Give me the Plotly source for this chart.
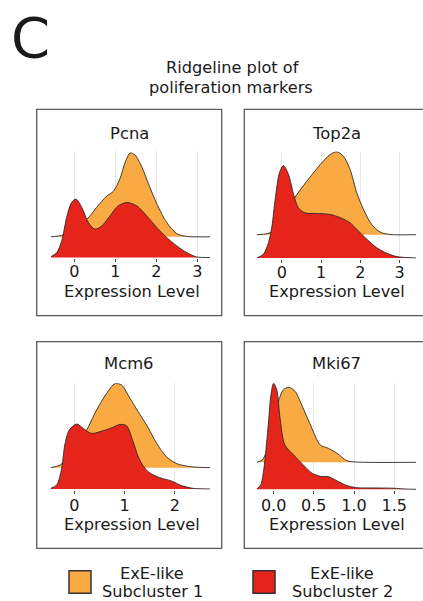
import plotly.graph_objects as go

# ---------------- data ----------------
GENES = ["Pcna", "Top2a", "Mcm6", "Mki67"]
GROUP_LINE1 = ["ExE-like", "ExE-like"]
GROUP_LINE2 = ["Subcluster 1", "Subcluster 2"]

# density heights, in units of the ridge spacing
PCNA_SUB1_X = [-0.58, -0.27, 0.0, 0.30, 0.54, 0.79, 0.95, 1.11, 1.24, 1.36, 1.48, 1.64, 1.80, 2.01, 2.25, 2.50, 2.74, 3.31]
PCNA_SUB1_D = [0.0, 0.10, 0.60, 0.85, 1.42, 1.97, 2.20, 2.80, 3.60, 4.05, 3.95, 3.40, 2.60, 1.60, 0.70, 0.15, 0.02, 0.0]
PCNA_SUB2_X = [-0.58, -0.43, -0.31, -0.19, -0.07, 0.04, 0.18, 0.34, 0.50, 0.67, 0.87, 1.07, 1.28, 1.52, 1.76, 2.01, 2.25, 2.50, 2.74, 2.98, 3.31]
PCNA_SUB2_D = [0.03, 0.24, 0.81, 1.94, 2.66, 2.82, 2.42, 1.69, 1.37, 1.53, 2.02, 2.50, 2.66, 2.50, 2.02, 1.45, 0.97, 0.56, 0.24, 0.03, 0.0]

TOP2A_SUB1_X = [-0.64, -0.38, -0.21, 0.0, 0.30, 0.64, 0.98, 1.23, 1.40, 1.57, 1.74, 1.91, 2.08, 2.29, 2.51, 2.76, 3.42]
TOP2A_SUB1_D = [0.0, 0.04, 0.16, 0.50, 1.51, 2.30, 3.01, 3.44, 3.56, 3.37, 2.80, 1.80, 1.09, 0.44, 0.11, 0.01, 0.0]
TOP2A_SUB2_X = [-0.64, -0.47, -0.34, -0.25, -0.17, -0.06, 0.04, 0.17, 0.30, 0.42, 0.59, 0.89, 1.23, 1.49, 1.74, 1.91, 2.17, 2.42, 2.68, 2.93, 3.42]
TOP2A_SUB2_D = [0.0, 0.16, 0.66, 1.37, 2.51, 3.66, 3.97, 3.59, 2.73, 2.16, 1.94, 1.91, 1.87, 1.73, 1.51, 1.23, 0.80, 0.44, 0.20, 0.06, 0.0]

MCM6_SUB1_X = [-0.47, -0.28, -0.15, 0.11, 0.28, 0.44, 0.64, 0.81, 0.94, 1.11, 1.27, 1.44, 1.64, 1.83, 2.03, 2.30, 2.70]
MCM6_SUB1_D = [0.0, 0.13, 0.44, 1.20, 1.92, 2.70, 3.48, 3.95, 3.88, 3.25, 2.63, 2.00, 1.14, 0.52, 0.20, 0.05, 0.0]
MCM6_SUB2_X = [-0.47, -0.35, -0.25, -0.19, -0.10, 0.05, 0.18, 0.34, 0.51, 0.71, 0.91, 1.04, 1.17, 1.30, 1.47, 1.70, 1.93, 2.13, 2.36, 2.70]
MCM6_SUB2_D = [0.03, 0.19, 0.97, 2.06, 2.77, 3.05, 2.84, 2.61, 2.69, 2.84, 3.03, 2.97, 2.22, 1.36, 0.81, 0.53, 0.38, 0.16, 0.03, 0.0]

MKI67_SUB1_X = [-0.21, -0.14, -0.08, 0.0, 0.06, 0.12, 0.19, 0.27, 0.35, 0.45, 0.58, 0.68, 0.79, 0.91, 1.03, 1.77]
MKI67_SUB1_D = [0.0, 0.09, 0.46, 1.26, 2.25, 2.68, 2.78, 2.62, 2.12, 1.44, 0.64, 0.52, 0.33, 0.06, 0.01, 0.0]
MKI67_SUB2_X = [-0.21, -0.16, -0.12, -0.07, -0.03, 0.0, 0.04, 0.08, 0.14, 0.25, 0.35, 0.48, 0.60, 0.68, 0.79, 0.91, 1.03, 1.24, 1.49, 1.65, 1.77]
MKI67_SUB2_D = [0.01, 0.16, 0.78, 2.26, 3.56, 3.93, 3.68, 2.63, 1.64, 1.27, 0.96, 0.59, 0.47, 0.47, 0.31, 0.14, 0.06, 0.05, 0.04, 0.01, 0.0]

INT_TICKS = [0, 1, 2, 3]
INT_TICK_LABELS = ["0", "1", "2", "3"]
MCM6_TICKS = [0, 1, 2]
MCM6_TICK_LABELS = ["0", "1", "2"]
MKI67_TICKS = [0.0, 0.5, 1.0, 1.5]
MKI67_TICK_LABELS = ["0.0", "0.5", "1.0", "1.5"]

SERIES = [
    (PCNA_SUB1_X, PCNA_SUB1_D, PCNA_SUB2_X, PCNA_SUB2_D, INT_TICKS, INT_TICK_LABELS),
    (TOP2A_SUB1_X, TOP2A_SUB1_D, TOP2A_SUB2_X, TOP2A_SUB2_D, INT_TICKS, INT_TICK_LABELS),
    (MCM6_SUB1_X, MCM6_SUB1_D, MCM6_SUB2_X, MCM6_SUB2_D, MCM6_TICKS, MCM6_TICK_LABELS),
    (MKI67_SUB1_X, MKI67_SUB1_D, MKI67_SUB2_X, MKI67_SUB2_D, MKI67_TICKS, MKI67_TICK_LABELS),
]

# ---------------- layout / style ----------------
W, H = 423, 601
FONT = "DejaVu Sans, Liberation Sans, Arial, sans-serif"
FS = 16.2
ORANGE = "#FAAA42"
RED = "#E6251A"
OUTLINE = "#2a2a2a"
TXT = "#1a1a1a"

PANELS = [
    dict(px=(50.7, 210.0), base=257.5, top=150.5, step=20.7, xr=(-0.58, 3.31), so=-4,
         box=(36.7, 109.3, 221.7, 315.7), ty=133.0, ax=132.0, ay=291.2),
    dict(px=(256.7, 416.0), base=258.0, top=151.5, step=23.3, xr=(-0.64, 3.42), so=-4,
         box=(244.3, 109.3, 429.3, 315.7), ty=133.0, ax=337.0, ay=291.2),
    dict(px=(50.7, 210.0), base=489.0, top=383.3, step=21.3, xr=(-0.47, 2.70), so=-2,
         box=(36.7, 341.7, 221.7, 548.3), ty=363.3, ax=132.0, ay=524.4),
    dict(px=(256.7, 416.0), base=489.3, top=383.3, step=27.0, xr=(-0.21, 1.77), so=-2,
         box=(244.3, 341.7, 429.3, 548.3), ty=363.3, ax=337.0, ay=524.4),
]


def xp(v):
    return v / W


def yp(v):
    return 1 - v / H


fig = go.Figure()
layout_axes = {}
shapes = []
annotations = []

for i, (gene, (x1, d1, x2, d2, tv, tt), P) in enumerate(zip(GENES, SERIES, PANELS)):
    sfx = "" if i == 0 else str(i + 1)
    xa, ya = "x" + sfx, "y" + sfx
    pad = 0.03
    ytop = (P["base"] - P["top"]) / P["step"]
    ybot = -pad
    fig.add_trace(go.Scatter(x=x1, y=[1.0] * len(x1), mode="lines", line=dict(width=0),
                             hoverinfo="skip", showlegend=False, xaxis=xa, yaxis=ya))
    fig.add_trace(go.Scatter(x=x1, y=[1.0 + v for v in d1], mode="lines", fill="tonexty",
                             fillcolor=ORANGE, line=dict(color=OUTLINE, width=0.9, shape="spline", smoothing=0.8),
                             name=GROUP_LINE1[0] + " " + GROUP_LINE2[0], showlegend=False,
                             xaxis=xa, yaxis=ya))
    fig.add_trace(go.Scatter(x=x2, y=d2, mode="lines", fill="tozeroy", fillcolor=RED,
                             line=dict(color=OUTLINE, width=0.9, shape="spline", smoothing=0.8),
                             name=GROUP_LINE1[1] + " " + GROUP_LINE2[1], showlegend=False,
                             xaxis=xa, yaxis=ya))
    ypx_bot = P["base"] + pad * P["step"]
    layout_axes["xaxis" + sfx] = dict(
        domain=[xp(P["px"][0]), xp(P["px"][1])], range=list(P["xr"]), anchor=ya,
        tickvals=tv, ticktext=tt, showgrid=True, gridcolor="#e6e6e6", gridwidth=1,
        zeroline=False, showline=False, ticks="outside", ticklen=3, tickwidth=1,
        tickcolor="#444444", ticklabelstandoff=P["so"],
        tickfont=dict(family=FONT, size=16, color=TXT), fixedrange=True)
    layout_axes["yaxis" + sfx] = dict(
        domain=[yp(ypx_bot), yp(P["top"])], range=[ybot, ytop], anchor=xa,
        visible=False, showgrid=False, zeroline=False, fixedrange=True)
    bx0, by0, bx1, by1 = P["box"]
    shapes.append(dict(type="rect", xref="paper", yref="paper", x0=xp(bx0), x1=xp(bx1),
                       y0=yp(by1), y1=yp(by0), line=dict(color="#5a5a5a", width=1.3)))
    annotations.append(dict(text=gene, x=xp((bx0 + bx1) / 2), y=yp(P["ty"]), xref="paper", yref="paper",
                            showarrow=False, xanchor="center", yanchor="middle",
                            font=dict(family=FONT, size=16.4, color=TXT)))
    annotations.append(dict(text="Expression Level", x=xp(P["ax"]), y=yp(P["ay"]), xref="paper", yref="paper",
                            showarrow=False, xanchor="center", yanchor="middle",
                            font=dict(family=FONT, size=FS, color=TXT)))

annotations.append(dict(text="C", x=xp(30), y=yp(38), xref="paper", yref="paper", showarrow=False,
                        xanchor="center", yanchor="middle", font=dict(family=FONT, size=56, color=TXT)))
annotations.append(dict(text="Ridgeline plot of", x=xp(232), y=yp(67.5), xref="paper", yref="paper",
                        showarrow=False, xanchor="center", yanchor="middle",
                        font=dict(family=FONT, size=FS, color=TXT)))
annotations.append(dict(text="poliferation markers", x=xp(231), y=yp(87.5), xref="paper", yref="paper",
                        showarrow=False, xanchor="center", yanchor="middle",
                        font=dict(family=FONT, size=FS, color=TXT)))

LEG = [(ORANGE, 69, 151.5), (RED, 253, 341.5)]
for (col, sx, tx), l1, l2 in zip(LEG, GROUP_LINE1, GROUP_LINE2):
    shapes.append(dict(type="rect", xref="paper", yref="paper", x0=xp(sx), x1=xp(sx + 22),
                       y0=yp(593.3), y1=yp(570.7), fillcolor=col, line=dict(color="#333333", width=1.5)))
    annotations.append(dict(text=l1, x=xp(tx), y=yp(573.5), xref="paper", yref="paper", showarrow=False,
                            xanchor="center", yanchor="middle", font=dict(family=FONT, size=FS, color=TXT)))
    annotations.append(dict(text=l2, x=xp(tx + 1), y=yp(591.5), xref="paper", yref="paper", showarrow=False,
                            xanchor="center", yanchor="middle", font=dict(family=FONT, size=FS, color=TXT)))

fig.update_layout(
    width=W, height=H, margin=dict(l=0, r=0, t=0, b=0),
    paper_bgcolor="white", plot_bgcolor="white",
    shapes=shapes, annotations=annotations, showlegend=False,
    **layout_axes,
)

fig.write_html("out.html", config={"displayModeBar": False},
               post_script="document.body.style.margin='0px';document.body.style.padding='0px';")
